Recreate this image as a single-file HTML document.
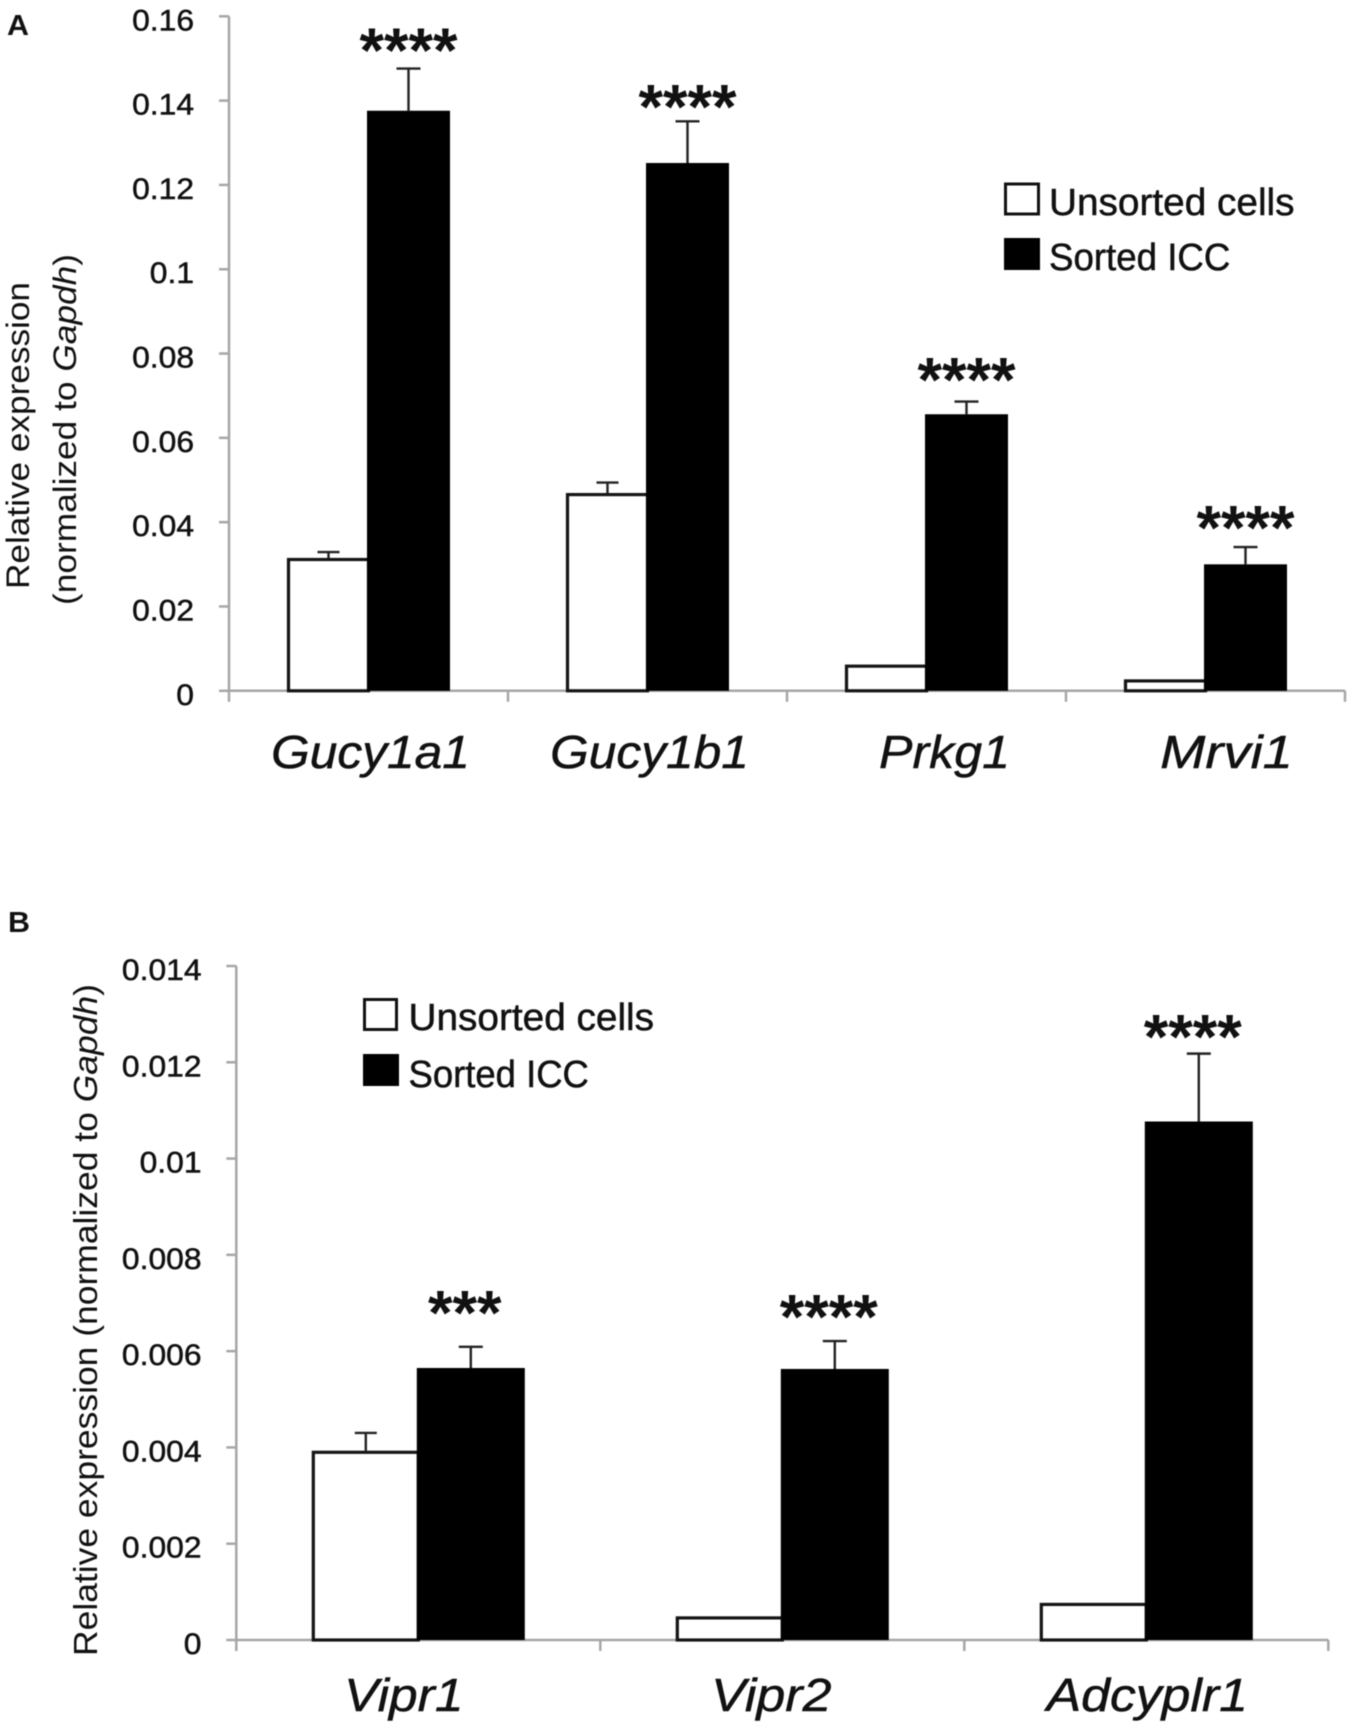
<!DOCTYPE html>
<html lang="en">
<head>
<meta charset="utf-8">
<title>Relative expression in unsorted cells and sorted ICC</title>
<style>
html,body{margin:0;padding:0;background:#fff}
svg{display:block;filter:blur(.6px)}
text{font-family:"Liberation Sans",Arial,sans-serif;fill:#111}
.heavy{stroke:#111;stroke-width:.5px}
</style>
</head>
<body>
<svg id="figure" xmlns="http://www.w3.org/2000/svg" width="1353" height="1731" viewBox="0 0 1353 1731">
  <rect width="1353" height="1731" fill="#fff"/>
  <text transform="translate(7,35) scale(1.05,1)" font-size="29" font-weight="700">A</text>
  <text transform="translate(8,932) scale(1.05,1)" font-size="29" font-weight="700">B</text>

  <text transform="translate(29,589) rotate(-90)" font-size="32" fill="#222" textLength="307" lengthAdjust="spacingAndGlyphs">Relative expression</text>
  <text transform="translate(76,605) rotate(-90)" font-size="32" fill="#222" textLength="351" lengthAdjust="spacingAndGlyphs">(normalized to <tspan font-style="italic">Gapdh</tspan>)</text>
  <text transform="translate(97,1656) rotate(-90)" font-size="33" fill="#222" textLength="672" lengthAdjust="spacingAndGlyphs">Relative expression (normalized to <tspan font-style="italic">Gapdh</tspan>)</text>

  <g>
    <rect x="1005.5" y="184" width="33" height="30" fill="#fff" stroke="#111" stroke-width="3"/>
    <text class="heavy" transform="translate(1049,215) scale(1.02,1)" font-size="38">Unsorted cells</text>
    <rect x="1004" y="238" width="36" height="32" fill="#000"/>
    <text class="heavy" transform="translate(1049,270) scale(.965,1)" font-size="38">Sorted ICC</text>
  </g>
  <g>
    <rect x="364.5" y="999.5" width="32" height="30" fill="#fff" stroke="#111" stroke-width="3"/>
    <text class="heavy" transform="translate(408.5,1030) scale(1.02,1)" font-size="38">Unsorted cells</text>
    <rect x="363" y="1054" width="36" height="32" fill="#000"/>
    <text class="heavy" transform="translate(408.5,1087) scale(.96,1)" font-size="38">Sorted ICC</text>
  </g>
</svg>
<script>
const genesA = ['Gucy1a1', 'Gucy1b1', 'Prkg1', 'Mrvi1'];
const yTicksA = ['0', '0.02', '0.04', '0.06', '0.08', '0.1', '0.12', '0.14', '0.16'];
const unsortedA = [0.0315, 0.0469, 0.0062, 0.0027];
const unsortedErrA = [0.0014, 0.0025, 0, 0];
const sortedA = [0.1376, 0.1252, 0.0656, 0.0300];
const sortedErrA = [0.0100, 0.0099, 0.0030, 0.0041];
const starsA = ['****', '****', '****', '****'];
const starLevelA = [0.1512, 0.1378, 0.0730, 0.0379];

const genesB = ['Vipr1', 'Vipr2', 'Adcyplr1'];
const yTicksB = ['0', '0.002', '0.004', '0.006', '0.008', '0.01', '0.012', '0.014'];
const unsortedB = [0.00393, 0.00049, 0.00077];
const unsortedErrB = [0.00037, 0, 0];
const sortedB = [0.00565, 0.00563, 0.01077];
const sortedErrB = [0.00044, 0.00058, 0.00141];
const starsB = ['***', '****', '****'];
const starLevelB = [0.00673, 0.00665, 0.01246];

const NS = 'http://www.w3.org/2000/svg';
const figure = document.getElementById('figure');

function make(tag, attrs, parent) {
  const el = document.createElementNS(NS, tag);
  Object.keys(attrs).forEach(function (k) { el.setAttribute(k, attrs[k]); });
  parent.appendChild(el);
  return el;
}

function drawPanel(p) {
  const group = make('g', {}, figure);
  
  

  const maxTick = parseFloat(p.ticks[p.ticks.length - 1]);
  const y = function (v) { return p.zeroY - (v / maxTick) * (p.zeroY - p.topY); };
  const x = function (i) { return p.axisX + (i + 0.5) * p.step; };
  const rightX = p.axisX + p.step * p.genes.length;

  // axes
  const yAxis = make('line', {x1: p.axisX, x2: p.axisX, y1: p.topY, y2: p.zeroY, stroke: '#a6a6a6', 'stroke-width': 2.5}, group);
  
  
  const xAxis = make('line', {x1: p.axisX, x2: rightX, y1: p.zeroY, y2: p.zeroY, stroke: '#a6a6a6', 'stroke-width': 2.5}, group);
  
  

  p.ticks.forEach(function (label) {
    const v = parseFloat(label);
    const tick = make('line', {x1: p.axisX - 10, x2: p.axisX, y1: y(v), y2: y(v), stroke: '#a6a6a6', 'stroke-width': 2.5}, group);
    
    
    const text = make('text', {transform: 'translate(' + p.tickRight + ',' + (y(v) + 14) + ') scale(1.06,1)', 'font-size': 30, 'text-anchor': 'end', 'class': 'heavy'}, group);
    
    
    text.textContent = label;
  });

  for (let i = 0; i <= p.genes.length; i++) {
    const tx = p.axisX + i * p.step;
    const tick = make('line', {x1: tx, x2: tx, y1: p.zeroY, y2: p.zeroY + 11, stroke: '#a6a6a6', 'stroke-width': 2.5}, group);
    
    
  }

  // bars
  p.genes.forEach(function (gene, i) {
    const cx = x(i);
    const bw = p.barWidth;

    if (p.unsortedErr[i] > 0) {
      const ue = make('path', {
        d: 'M' + (cx - bw / 2) + ' ' + y(p.unsorted[i]) + 'V' + y(p.unsorted[i] + p.unsortedErr[i]) + 'm-11 0h22',
        fill: 'none', stroke: '#222', 'stroke-width': 2.4
      }, group);
      
      
    }
    const wb = make('rect', {
      x: cx - bw, y: y(p.unsorted[i]) + 1.5,
      width: bw, height: Math.max(0, p.zeroY - y(p.unsorted[i]) - 1.5),
      fill: '#fff', stroke: '#151515', 'stroke-width': 3.2
    }, group);
    
    

    const se = make('path', {
      d: 'M' + (cx + bw / 2) + ' ' + y(p.sorted[i]) + 'V' + y(p.sorted[i] + p.sortedErr[i]) + 'm-12 0h24',
      fill: 'none', stroke: '#222', 'stroke-width': 2.4
    }, group);
    
    
    const bb = make('rect', {
      x: cx - 1.5, y: y(p.sorted[i]),
      width: bw + 3, height: p.zeroY - y(p.sorted[i]),
      fill: '#000'
    }, group);
    
    

    const star = make('text', {
      x: cx + bw / 2 + p.starShift, y: y(p.starLevel[i]) + 18.5,
      'font-size': 63, 'font-weight': 700, 'text-anchor': 'middle', fill: '#000'
    }, group);
    
    
    star.textContent = p.stars[i];

    const label = make('text', {
      transform: 'translate(' + (cx + p.labelShift[i]) + ',' + p.labelY + ') scale(' + p.labelStretch[i] + ',1)',
      'font-size': 46, 'font-style': 'italic', 'text-anchor': 'middle', fill: '#000', 'class': 'heavy'
    }, group);
    
    
    label.textContent = gene;
  });
}

drawPanel({
  id: 'a', genes: genesA, ticks: yTicksA,
  unsorted: unsortedA, unsortedErr: unsortedErrA,
  sorted: sortedA, sortedErr: sortedErrA,
  stars: starsA, starLevel: starLevelA,
  axisX: 229, step: 279, topY: 16.3, zeroY: 690.8,
  barWidth: 80, tickRight: 194, labelY: 768, starShift: 0,
  labelShift: [2, 2, 18, 21], labelStretch: [1.08, 1.08, 1.09, 1.18]
});
drawPanel({
  id: 'b', genes: genesB, ticks: yTicksB,
  unsorted: unsortedB, unsortedErr: unsortedErrB,
  sorted: sortedB, sortedErr: sortedErrB,
  stars: starsB, starLevel: starLevelB,
  axisX: 236.3, step: 364, topY: 966, zeroY: 1640,
  barWidth: 105, tickRight: 201.5, labelY: 1711, starShift: -6,
  labelShift: [-14.5, -11, 1], labelStretch: [1.12, 1.13, 1.125]
});
</script>
</body>
</html>
